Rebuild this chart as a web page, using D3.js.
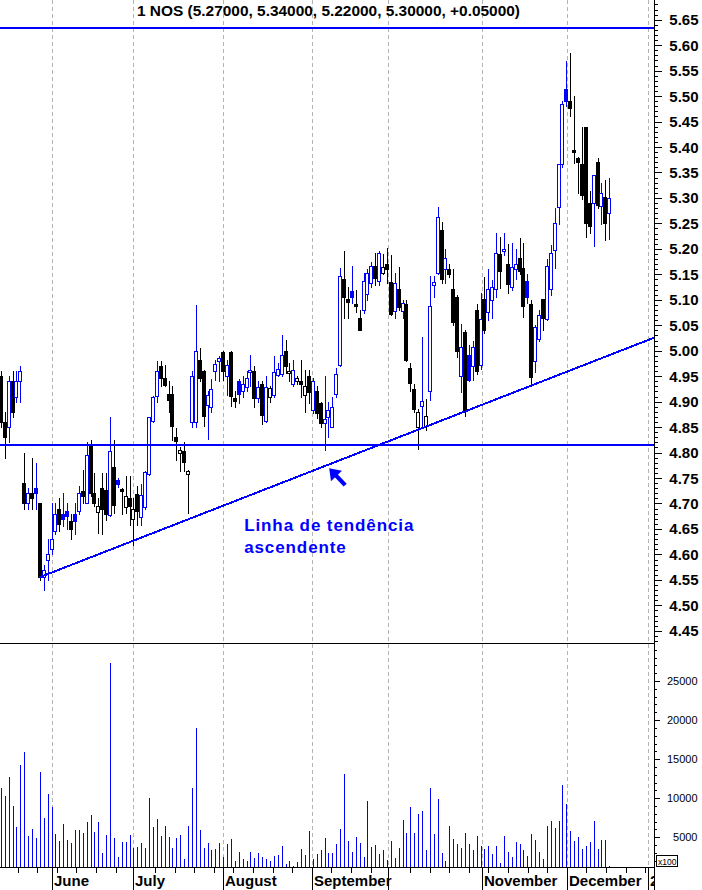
<!DOCTYPE html>
<html>
<head>
<meta charset="utf-8">
<script src="https://cdn.jsdelivr.net/npm/d3@7"></script>
<style>
  html, body { margin: 0; padding: 0; background: #fff; }
  svg { display: block; }
  text { font-family: "Liberation Sans", Arial, Helvetica, sans-serif; }
</style>
</head>
<body>
<svg id="chart" width="702" height="890"></svg>
<script>
// ---- daily prices (one entry per trading session) ----
const openPrice = [
  4.950,4.860,4.850,4.940,4.910,4.940,4.740,4.700,4.720,4.730,
  4.700,4.555,4.590,4.610,4.645,4.690,4.680,4.685,4.665,4.680,
  4.685,4.725,4.700,4.815,4.720,4.683,4.730,4.727,4.678,4.771,
  4.746,4.728,4.694,4.710,4.670,4.718,4.673,4.694,4.757,4.861,
  4.911,4.970,4.947,4.915,4.915,4.830,4.800,4.803,4.757,4.860,
  4.860,4.982,4.960,4.894,4.890,4.961,4.980,4.998,4.950,4.998,
  4.908,4.940,4.920,4.928,4.958,4.960,4.908,4.934,4.861,4.909,
  4.913,4.953,4.954,5.000,4.956,4.934,4.940,4.940,4.913,4.951,
  4.884,4.921,4.897,4.858,4.869,4.851,4.915,4.972,5.141,5.102,
  5.118,5.092,5.065,5.080,5.111,5.133,5.167,5.136,5.152,5.170,
  5.134,5.078,5.121,5.078,5.092,4.967,4.925,4.851,4.892,4.852,
  4.920,5.130,5.152,5.237,5.160,5.161,5.121,5.106,4.951,5.036,
  4.992,4.969,5.080,4.971,5.102,5.077,5.100,5.121,5.190,5.195,
  5.170,5.126,5.160,5.183,5.162,5.136,5.092,4.980,5.023,5.101,
  5.062,5.121,5.198,5.282,5.367,5.514,5.490,5.395,5.378,5.367,
  5.439,5.290,5.290,5.370,5.285,5.302,5.270
];
const highPrice = [
  4.960,4.880,4.950,4.960,4.960,4.970,4.800,4.730,4.790,4.780,
  4.700,4.580,4.630,4.700,4.700,4.710,4.720,4.700,4.680,4.700,
  4.735,4.765,4.820,4.825,4.760,4.710,4.760,4.760,4.869,4.825,
  4.750,4.730,4.753,4.753,4.710,4.735,4.738,4.763,4.870,4.911,
  4.980,4.979,4.972,4.940,4.930,4.848,4.810,4.820,4.765,4.960,
  5.090,5.005,4.962,4.920,4.944,4.982,4.990,5.000,4.982,5.000,
  4.920,4.944,4.950,4.960,4.992,4.970,4.940,4.940,4.950,4.930,
  4.990,4.975,5.031,5.021,4.975,4.982,4.950,4.982,4.962,4.962,
  4.947,4.931,4.900,4.951,4.900,4.910,4.966,5.162,5.196,5.126,
  5.167,5.119,5.080,5.152,5.160,5.175,5.192,5.195,5.190,5.201,
  5.188,5.152,5.165,5.100,5.100,4.975,4.935,4.885,5.026,4.905,
  5.147,5.147,5.282,5.252,5.200,5.170,5.160,5.110,5.052,5.040,
  5.011,5.020,5.092,5.113,5.144,5.160,5.138,5.231,5.223,5.231,
  5.210,5.211,5.200,5.221,5.211,5.150,5.100,5.050,5.080,5.101,
  5.180,5.208,5.280,5.367,5.490,5.568,5.584,5.500,5.380,5.440,
  5.440,5.314,5.345,5.379,5.330,5.335,5.340
];
const lowPrice = [
  4.850,4.790,4.820,4.870,4.900,4.900,4.690,4.690,4.690,4.690,
  4.550,4.530,4.550,4.600,4.640,4.645,4.655,4.650,4.630,4.640,
  4.680,4.700,4.700,4.715,4.695,4.643,4.640,4.668,4.675,4.681,
  4.733,4.680,4.681,4.658,4.619,4.657,4.657,4.690,4.755,4.860,
  4.900,4.930,4.930,4.880,4.825,4.786,4.763,4.763,4.682,4.850,
  4.850,4.940,4.852,4.826,4.880,4.943,4.940,4.943,4.913,4.892,
  4.890,4.897,4.910,4.920,4.930,4.890,4.900,4.856,4.860,4.900,
  4.910,4.950,4.950,4.956,4.940,4.930,4.935,4.910,4.880,4.897,
  4.878,4.867,4.851,4.805,4.831,4.850,4.910,4.970,5.064,5.064,
  5.093,5.077,5.040,5.074,5.100,5.125,5.130,5.129,5.150,5.133,
  5.070,5.064,5.080,5.064,4.980,4.920,4.880,4.807,4.851,4.844,
  4.903,5.106,5.150,5.133,5.133,5.145,5.050,4.988,4.918,4.871,
  4.940,4.943,4.955,4.965,5.035,5.061,5.064,5.106,5.123,5.188,
  5.113,5.120,5.140,5.150,5.067,5.093,4.936,4.959,5.020,5.041,
  5.060,5.110,5.162,5.248,5.360,5.480,5.460,5.368,5.309,5.298,
  5.223,5.232,5.206,5.281,5.248,5.218,5.220
];
const closePrice = [
  4.860,4.830,4.940,4.880,4.940,4.960,4.700,4.720,4.710,4.720,
  4.555,4.570,4.600,4.630,4.680,4.660,4.670,4.675,4.650,4.665,
  4.720,4.715,4.795,4.720,4.700,4.695,4.690,4.680,4.803,4.697,
  4.738,4.725,4.714,4.695,4.690,4.685,4.717,4.761,4.869,4.910,
  4.960,4.946,4.933,4.903,4.852,4.822,4.805,4.782,4.764,4.950,
  5.000,4.946,4.872,4.913,4.925,4.974,4.985,4.960,4.972,4.911,
  4.902,4.915,4.934,4.946,4.962,4.907,4.928,4.874,4.928,4.926,
  4.959,4.964,4.992,4.970,4.960,4.962,4.946,4.934,4.930,4.918,
  4.940,4.877,4.859,4.866,4.884,4.889,4.954,5.147,5.106,5.096,
  5.106,5.087,5.041,5.137,5.152,5.167,5.142,5.192,5.165,5.160,
  5.072,5.133,5.085,5.093,4.982,4.937,4.885,4.879,4.902,4.872,
  5.087,5.135,5.262,5.141,5.182,5.151,5.057,5.000,5.007,4.884,
  4.943,5.007,4.961,5.063,5.041,5.121,5.125,5.192,5.157,5.200,
  5.131,5.165,5.170,5.157,5.087,5.106,4.948,5.046,5.070,5.064,
  5.167,5.192,5.250,5.367,5.484,5.490,5.476,5.390,5.371,5.306,
  5.250,5.245,5.345,5.286,5.310,5.250,5.300
];
// traded volume, in hundreds of shares
const volume = [
  11308,10284,12717,9004,6316,14253,15917,5164,6058,4908,
  13357,7468,10541,8877,5420,4524,6700,4652,4268,5932,
  5932,5548,6956,7852,5676,6956,2989,5292,27310,4908,
  2476,4396,4396,5292,3628,3756,4268,3628,10028,6316,
  7340,5164,6444,5036,3628,4908,5292,2220,6444,11308,
  18989,5932,3628,4268,3372,3500,4268,2476,4140,4780,
  1964,3116,2220,1964,3116,2348,2989,2476,2220,1964,
  2604,2732,3884,1580,1964,1324,1836,3500,2732,5804,
  2220,2860,3372,4908,2989,2989,4140,6060,13100,4524,
  3116,5036,4268,2476,9644,3756,4012,2860,3372,2092,
  4524,2348,3628,7212,5548,8877,5548,7980,8364,3372,
  11308,5420,9900,2989,1964,6444,4780,4140,3628,5548,
  4140,3372,5164,3884,3500,3884,2860,3884,1708,5164,
  3116,2476,4396,4140,3372,2604,5420,4652,3116,2220,
  6444,7084,6188,7084,11692,9260,5804,4524,5036,3500,
  3884,4396,7084,3500,4652,4652,1324
];

// ---- time axis: month boundaries (session index) and labels ----
const monthTickIndex = [13.1, 34.0, 57.0, 79.8, 99.4, 123.4, 145.2, 166.0];
const monthLabels    = ["June", "July", "August", "September", "", "November", "December", "2"];

// ---- drawn studies ----
const resistanceLevel = 5.633;
const supportLevel = 4.815;
const trendFrom = [9.9, 4.555];
const trendTo   = [168.0, 5.027];
const arrowTip  = [84.2, 4.769];
const arrowTail = [88.3, 4.736];
const noteLines = ["Linha de tendência", "ascendente"];
const noteAnchor = [62.4, 4.645];

const titleText = "1 NOS (5.27000, 5.34000, 5.22000, 5.30000, +0.05000)";

const BLUE = "#0000ff";
const svg = d3.select("#chart");
const axisX = 654;
const panelSplit = 643;
const volBase = 867;

const x = d3.scaleLinear().domain([0, 156]).range([0.8, 609.2]);
const y = d3.scaleLinear().domain([4.45, 5.65]).range([630.8, 19.7]);
const yv = d3.scaleLinear().domain([5000, 25000]).range([837.3, 681]);
const px = i => Math.round(x(i)) + 0.5;
const py = v => Math.round(y(v)) + 0.5;

const defs = svg.append("defs");
defs.append("clipPath").attr("id", "clipPrice")
  .append("rect").attr("x", 0).attr("y", 0).attr("width", axisX).attr("height", panelSplit);
defs.append("clipPath").attr("id", "clipVol")
  .append("rect").attr("x", 0).attr("y", panelSplit).attr("width", axisX).attr("height", volBase - panelSplit);
defs.append("clipPath").attr("id", "clipAxisX")
  .append("rect").attr("x", 0).attr("y", volBase).attr("width", axisX).attr("height", 890 - volBase);

svg.append("rect").attr("width", 702).attr("height", 890).attr("fill", "#fff");

// dashed month gridlines across both panels
svg.append("g").selectAll("line").data(monthTickIndex).join("line")
  .attr("x1", d => px(d)).attr("x2", d => px(d))
  .attr("y1", 0).attr("y2", volBase)
  .attr("stroke", "#b4b4b4").attr("stroke-width", 1)
  .attr("stroke-dasharray", "4,3").attr("shape-rendering", "crispEdges");

// ---- candles ----
const days = d3.range(openPrice.length).map(i => ({
  i, o: openPrice[i], h: highPrice[i], l: lowPrice[i], c: closePrice[i],
  up: i === 0 ? closePrice[i] >= openPrice[i] : closePrice[i] >= closePrice[i - 1],
  hollow: closePrice[i] > openPrice[i]
}));

const price = svg.append("g").attr("clip-path", "url(#clipPrice)")
  .attr("shape-rendering", "crispEdges");

price.append("g").selectAll("line").data(days).join("line")
  .attr("x1", d => px(d.i)).attr("x2", d => px(d.i))
  .attr("y1", d => Math.round(y(d.h))).attr("y2", d => Math.round(y(d.l)) + 1)
  .attr("stroke", d => d.up ? BLUE : "#000").attr("stroke-width", 1);

price.append("g").selectAll("rect").data(days).join("rect")
  .attr("x", d => px(d.i) - 2)
  .attr("y", d => py(Math.max(d.o, d.c)))
  .attr("width", 3)
  .attr("height", d => Math.max(0, Math.round(y(Math.min(d.o, d.c))) - Math.round(y(Math.max(d.o, d.c)))))
  .attr("fill", d => d.hollow ? "#fff" : (d.up ? BLUE : "#000"))
  .attr("stroke", d => d.up ? BLUE : "#000").attr("stroke-width", 1);

// horizontal support / resistance lines
price.append("g").selectAll("line").data([resistanceLevel, supportLevel]).join("line")
  .attr("x1", 0).attr("x2", axisX)
  .attr("y1", d => Math.round(y(d))).attr("y2", d => Math.round(y(d)))
  .attr("stroke", BLUE).attr("stroke-width", 2);

// rising trend line
price.append("line")
  .attr("x1", x(trendFrom[0])).attr("y1", y(trendFrom[1]))
  .attr("x2", x(trendTo[0])).attr("y2", y(trendTo[1]))
  .attr("stroke", BLUE).attr("stroke-width", 2);

// arrow pointing at the line
{
  const tx = x(arrowTip[0]), ty = y(arrowTip[1]);
  const sx = x(arrowTail[0]), sy = y(arrowTail[1]);
  const ang = Math.atan2(ty - sy, tx - sx);
  const len = 13, spread = 0.62;
  const bx = tx - Math.cos(ang) * 8, by = ty - Math.sin(ang) * 8;
  svg.append("line").attr("x1", sx).attr("y1", sy).attr("x2", bx).attr("y2", by)
    .attr("stroke", BLUE).attr("stroke-width", 4.2);
  svg.append("path")
    .attr("d", `M${tx},${ty}` +
      `L${tx - Math.cos(ang - spread) * len},${ty - Math.sin(ang - spread) * len}` +
      `L${tx - Math.cos(ang + spread) * len},${ty - Math.sin(ang + spread) * len}Z`)
    .attr("fill", BLUE);
}

// annotation text
svg.append("g").selectAll("text").data(noteLines).join("text")
  .attr("x", x(noteAnchor[0]))
  .attr("y", (d, k) => y(noteAnchor[1]) + k * 21.6)
  .attr("fill", BLUE).attr("font-weight", "bold").attr("font-size", 17)
  .attr("letter-spacing", 0.9)
  .text(d => d);

// ---- volume ----
svg.append("g").attr("clip-path", "url(#clipVol)").attr("shape-rendering", "crispEdges")
  .selectAll("line").data(volume).join("line")
  .attr("x1", (d, i) => px(i)).attr("x2", (d, i) => px(i))
  .attr("y1", volBase).attr("y2", d => Math.round(yv(d)))
  .attr("stroke", BLUE).attr("stroke-width", 1);

// ---- frame lines ----
const frame = svg.append("g").attr("stroke", "#000").attr("stroke-width", 1).attr("shape-rendering", "crispEdges");
frame.append("line").attr("x1", axisX + 0.5).attr("x2", axisX + 0.5).attr("y1", 0).attr("y2", 890);
frame.append("line").attr("x1", 0).attr("x2", axisX).attr("y1", panelSplit + 0.5).attr("y2", panelSplit + 0.5);
frame.append("line").attr("x1", 0).attr("x2", axisX).attr("y1", volBase + 0.5).attr("y2", volBase + 0.5);

// ---- price axis (right) ----
const priceTicks = d3.range(443, 569).map(v => v / 100);
const pAxis = svg.append("g").attr("shape-rendering", "crispEdges");
pAxis.selectAll("line").data(priceTicks.filter(v => y(v) > 2 && y(v) < panelSplit - 2)).join("line")
  .attr("x1", axisX).attr("x2", v => axisX + (Math.round(v * 100) % 5 === 0 ? 8 : 4))
  .attr("y1", v => py(v)).attr("y2", v => py(v))
  .attr("stroke", "#000");
svg.append("g").selectAll("text")
  .data(priceTicks.filter(v => Math.round(v * 100) % 5 === 0 && v >= 4.45 && v <= 5.65)).join("text")
  .attr("x", 698.5).attr("y", v => y(v))
  .attr("text-anchor", "end").attr("dominant-baseline", "central")
  .attr("font-weight", "bold").attr("font-size", 15)
  .text(v => v.toFixed(2));

// ---- volume axis (right) ----
const volTicks = d3.range(2000, 30000, 1000);
svg.append("g").attr("shape-rendering", "crispEdges").selectAll("line")
  .data(volTicks.filter(v => yv(v) > panelSplit + 2 && yv(v) < volBase - 2)).join("line")
  .attr("x1", axisX).attr("x2", v => axisX + (v % 5000 === 0 ? 6 : 3))
  .attr("y1", v => Math.round(yv(v)) + 0.5).attr("y2", v => Math.round(yv(v)) + 0.5)
  .attr("stroke", "#000");
svg.append("g").selectAll("text").data(d3.range(5000, 30000, 5000)).join("text")
  .attr("x", 697.5).attr("y", v => yv(v))
  .attr("text-anchor", "end").attr("dominant-baseline", "central")
  .attr("font-size", 11)
  .text(v => v);

// multiplier tag
svg.append("rect").attr("x", 656.5).attr("y", 855.5).attr("width", 21).attr("height", 11)
  .attr("fill", "#fff").attr("stroke", "#000").attr("shape-rendering", "crispEdges");
svg.append("text").attr("x", 658).attr("y", 864.5).attr("font-size", 8.5).text("x100");

// ---- time axis (bottom) ----
const tAxis = svg.append("g").attr("shape-rendering", "crispEdges").attr("stroke", "#000");
const weekTicks = d3.range(0, 33).map(k => 4.3 + 5.03 * k)
  .filter(w => monthTickIndex.every(m => Math.abs(m - w) > 0.6));
tAxis.selectAll("line.w").data(weekTicks).join("line").attr("class", "w")
  .attr("x1", d => px(d)).attr("x2", d => px(d))
  .attr("y1", volBase).attr("y2", volBase + 6);
tAxis.selectAll("line.m").data(monthTickIndex).join("line").attr("class", "m")
  .attr("x1", d => px(d)).attr("x2", d => px(d))
  .attr("y1", volBase).attr("y2", 890);
svg.append("g").attr("clip-path", "url(#clipAxisX)").selectAll("text")
  .data(monthTickIndex.map((d, k) => ({ d, label: monthLabels[k] })).filter(m => m.label)).join("text")
  .attr("x", m => px(m.d) + 1.5).attr("y", 886)
  .attr("font-weight", "bold").attr("font-size", 15)
  .text(m => m.label);

// ---- title ----
svg.append("text").attr("x", 137).attr("y", 16)
  .attr("font-weight", "bold").attr("font-size", 15.5)
  .attr("textLength", 383).attr("lengthAdjust", "spacingAndGlyphs")
  .text(titleText);
</script>
</body>
</html>
